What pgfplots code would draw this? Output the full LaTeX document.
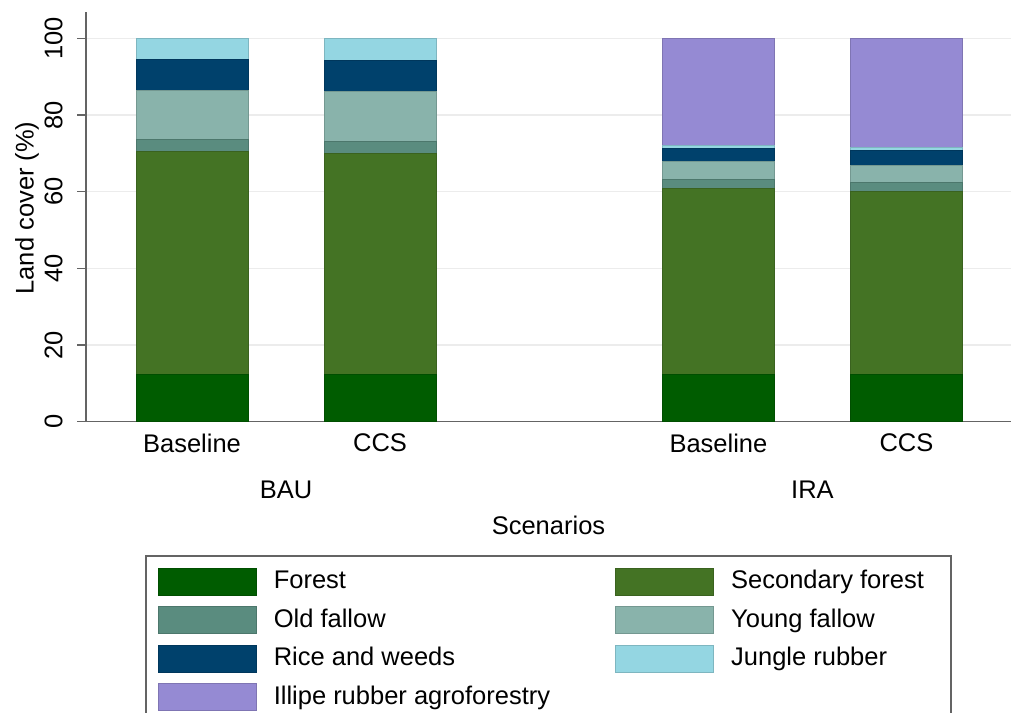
\documentclass[border=0pt]{standalone}
\usepackage{fontspec}
\setmainfont{Liberation Sans}
\usepackage{pgfplots}
\pgfplotsset{compat=1.18}

\definecolor{cForest}{RGB}{0,92,0}
\definecolor{cSecond}{RGB}{68,115,36}
\definecolor{cOld}{RGB}{90,140,127}
\definecolor{cYoung}{RGB}{137,179,171}
\definecolor{cRice}{RGB}{0,65,108}
\definecolor{cJungle}{RGB}{148,214,226}
\definecolor{cIllipe}{RGB}{149,138,211}
\definecolor{axgray}{RGB}{100,100,100}

\newcommand{\lab}{\fontsize{10.2}{12}\selectfont}

\pgfplotsset{
  lc/.style={fill=#1, draw=#1!85!black, line width=0.4pt,
    legend image code/.code={\draw[##1] (0pt,-5.4pt) rectangle (39.2pt,5.4pt);}},
}

\begin{document}
\begin{tikzpicture}
\useasboundingbox (0,0) rectangle (406.4pt,285.2pt);
\clip (0,0) rectangle (406.4pt,285.2pt);
\begin{axis}[
  at={(34.4pt,116.52pt)}, anchor=south west,
  scale only axis, width=370pt, height=163.88pt,
  ybar stacked, bar width=0.596,
  xmin=-0.564, xmax=4.356, ymin=0, ymax=106.9,
  axis x line*=bottom, axis y line*=left,
  axis line style={axgray, line width=0.6pt},
  xtick={0,1,2.8,3.8},
  xticklabels={Baseline, CCS, Baseline, CCS},
  xtick style={draw=none},
  ytick={0,20,40,60,80,100},
  ytick style={axgray, line width=0.6pt},
  tick align=outside, major tick length=3.6pt,
  ymajorgrids, grid style={gray!15, line width=0.6pt},
  /pgf/number format/assume math mode=true,
  tick label style={font=\lab},
  yticklabel style={rotate=90, anchor=south, inner sep=0pt},
  yticklabel shift=5.6pt,
  xticklabel style={anchor=north, inner sep=0pt},
  xticklabel shift=1.2pt,
  xlabel={Scenarios},
  xlabel style={at={(rel axis cs:0.5,-0.2521)}, anchor=center, font=\lab},
  ylabel={Land cover (\%)},
  ylabel style={at={(rel axis cs:-0.0638,0.5216)}, anchor=center, rotate=0, font=\lab},
  clip=false,
  legend columns=2,
  legend cell align=left,
  legend style={at={(rel axis cs:0.0638,-0.3254)}, anchor=north west,
    draw=axgray, line width=0.6pt, inner xsep=4.8pt, inner ysep=4.8pt,
    font=\lab, row sep=4.2pt,
    nodes={inner xsep=0pt, inner ysep=0pt, text height=7.4pt, text depth=2pt},
    /tikz/every odd column/.append style={column sep=6.8pt},
    /tikz/every even column/.append style={column sep=26pt}},
]
\addplot[lc=cForest] coordinates {(0,12.2) (1,12.2) (2.8,12.2) (3.8,12.2)};
\addplot[lc=cSecond] coordinates {(0,58.4) (1,57.8) (2.8,48.7) (3.8,47.8)};
\addplot[lc=cOld]    coordinates {(0,3.1) (1,3.0) (2.8,2.4) (3.8,2.4)};
\addplot[lc=cYoung]  coordinates {(0,12.8) (1,13.1) (2.8,4.5) (3.8,4.4)};
\addplot[lc=cRice]   coordinates {(0,8.0) (1,8.2) (2.8,3.5) (3.8,3.9)};
\addplot[lc=cJungle] coordinates {(0,5.5) (1,5.7) (2.8,0.8) (3.8,0.8)};
\addplot[lc=cIllipe] coordinates {(0,0) (1,0) (2.8,27.9) (3.8,28.5)};
\legend{Forest, Secondary forest\rule{6pt}{0pt}, Old fallow, Young fallow, Rice and weeds, Jungle rubber, Illipe rubber agroforestry}
\node[font=\lab] at (axis cs:0.5,-17.8) {BAU};
\node[font=\lab] at (axis cs:3.3,-17.8) {IRA};
\end{axis}
\end{tikzpicture}
\end{document}
